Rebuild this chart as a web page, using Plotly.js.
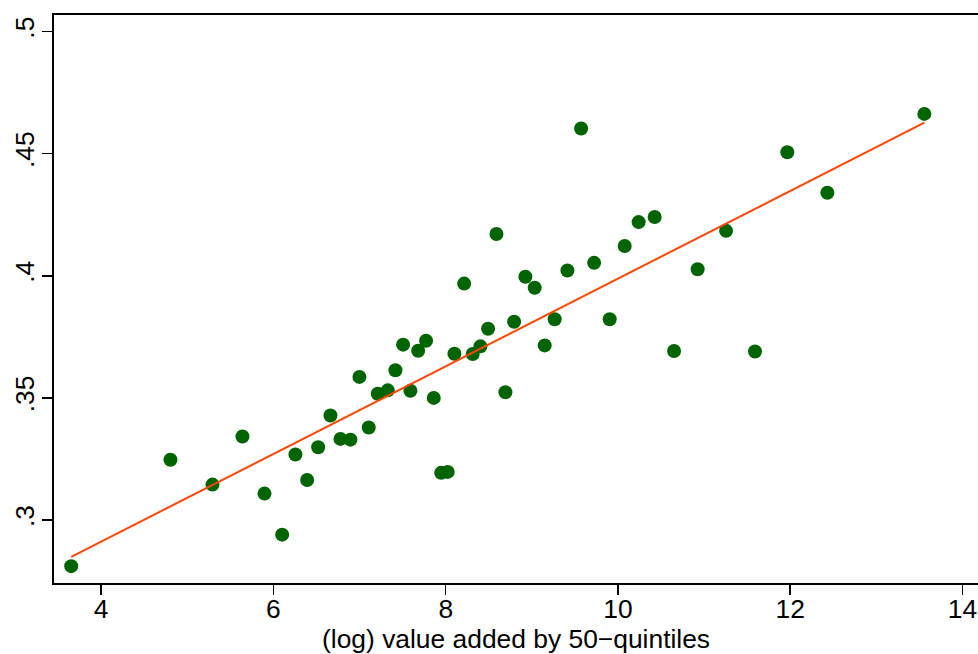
<!DOCTYPE html>
<html>
<head>
<meta charset="utf-8">
<script src="https://cdn.plot.ly/plotly-3.0.1.min.js"></script>
<style>
html,body{margin:0;padding:0;background:#fff;}
#chart{width:978px;height:654px;}
</style>
</head>
<body>
<div id="chart"></div>
<script>
// (log) value added by 50-quintiles
const valueAdded = [3.652,4.804,5.292,5.640,5.896,6.101,6.255,6.391,6.519,6.662,
  6.778,6.894,6.998,7.106,7.211,7.327,7.416,7.505,7.590,7.680,
  7.772,7.861,7.947,8.023,8.101,8.214,8.313,8.403,8.492,8.589,
  8.693,8.794,8.925,9.033,9.149,9.265,9.413,9.572,9.723,9.904,
  10.078,10.240,10.426,10.651,10.925,11.255,11.591,11.966,12.431,13.557];
const outcome = [0.2811,0.3247,0.3145,0.3342,0.3108,0.2940,0.3268,0.3164,0.3298,0.3428,
  0.3332,0.3329,0.3586,0.3379,0.3517,0.3531,0.3613,0.3718,0.3529,0.3693,
  0.3734,0.3500,0.3193,0.3197,0.3681,0.3968,0.3680,0.3711,0.3783,0.4171,
  0.3523,0.3812,0.3996,0.3951,0.3715,0.3822,0.4022,0.4603,0.4053,0.3822,
  0.4122,0.4220,0.4241,0.3692,0.4027,0.4184,0.3690,0.4506,0.4340,0.4663];
// fitted line endpoints
const fitX = [3.652, 13.557];
const fitY = [0.2849, 0.4627];
// ticks
const xTicks = [4, 6, 8, 10, 12, 14];
const xTickText = ["4", "6", "8", "10", "12", "14"];
const yTicks = [0.3, 0.35, 0.4, 0.45, 0.5];
const yTickText = [".3", ".35", ".4", ".45", ".5"];
const xTitle = "(log) value added by 50\u2212quintiles";

const font = {family: "Liberation Sans, Arial, sans-serif", size: 26.4, color: "#000"};

const traces = [
  {x: valueAdded, y: outcome, type: "scatter", mode: "markers",
   marker: {color: "#006400", size: 14, line: {width: 0}}, hoverinfo: "x+y"},
  {x: fitX, y: fitY, type: "scatter", mode: "lines",
   line: {color: "#FF4500", width: 2}, hoverinfo: "none"}
];

const layout = {
  width: 978, height: 654,
  margin: {l: 53.5, r: 0, t: 15, b: 70.5, pad: 0},
  paper_bgcolor: "#fff", plot_bgcolor: "#fff",
  showlegend: false,
  font: font,
  xaxis: {
    range: [3.452, 14.18], tickmode: "array", tickvals: xTicks, ticktext: xTickText,
    showgrid: false, zeroline: false, showline: true, mirror: true,
    linecolor: "#000", linewidth: 2, ticks: "outside", ticklen: 10, tickwidth: 1.5,
    tickcolor: "#000", tickfont: font, ticklabelstandoff: -9, automargin: false
  },
  yaxis: {
    range: [0.2742, 0.5068], tickmode: "array", tickvals: yTicks, ticktext: yTickText,
    showgrid: false, zeroline: false, showline: true, mirror: false,
    linecolor: "#000", linewidth: 2, ticks: "outside", ticklen: 10, tickwidth: 1.5,
    tickcolor: "#000", tickfont: font, tickangle: -90, ticklabelstandoff: -3, automargin: false
  },
  annotations: [{
    text: xTitle, xref: "paper", yref: "paper", x: 0.5, y: -0.0994,
    xanchor: "center", yanchor: "middle", showarrow: false, font: font
  }]
};

Plotly.newPlot("chart", traces, layout, {displayModeBar: false, staticPlot: true});
</script>
</body>
</html>
